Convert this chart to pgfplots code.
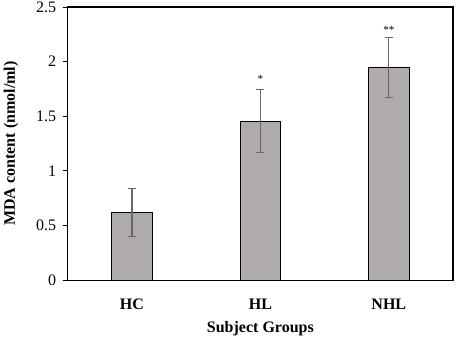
\documentclass[border=0pt]{standalone}
\usepackage{pgfplots}
\pgfplotsset{compat=1.18}
\usepackage{fontspec}
\setmainfont{Liberation Serif}
\definecolor{bargray}{RGB}{175,171,171}
\definecolor{errgray}{RGB}{105,105,105}
\begin{document}
\fontsize{16}{19}\selectfont
\begin{tikzpicture}
\begin{axis}[
  name=ax,
  scale only axis,
  width=385pt, height=273pt,
  xmin=-0.5, xmax=2.5,
  ymin=0, ymax=2.5,
  xtick={0,1,2},
  xticklabels={\textbf{HC},\textbf{HL},\textbf{NHL}},
  ytick={0,0.5,1,1.5,2,2.5},
  yticklabels={0,0.5,1,1.5,2,2.5},
  major x tick style={draw=none},
  ytick pos=left,
  tick align=outside,
  major tick length=5pt,
  axis line style={line width=1.2pt},
  y tick style={line width=1pt, black},
  xticklabel style={anchor=base, yshift=-24pt},
  yticklabel style={xshift=-1pt},
  xlabel={\textbf{Subject Groups}},
  ylabel={\textbf{MDA content (nmol/ml)}},
  xlabel style={at={(axis description cs:0.5,-0.1905)}, anchor=base},
  ylabel style={at={(axis description cs:-0.137,0.5)}, anchor=base},
  clip=false,
]
% bars with SD
\addplot[ybar, bar width=40.5pt, fill=bargray, draw=black, line width=1.1pt,
  error bars/.cd, y dir=both, y explicit,
  error bar style={errgray, line width=1.1pt},
  error mark options={rotate=90, errgray, line width=1.1pt, mark size=4pt}]
  coordinates {
  (0,0.62) +- (0,0.22)
  (1,1.455) +- (0,0.29)
  (2,1.945) +- (0,0.272)
};
% significance marks
\addplot[draw=none, mark=none, point meta=explicit symbolic,
  nodes near coords,
  every node near coord/.append style={anchor=base, inner sep=0pt, font=\fontsize{11}{13}\selectfont}]
  coordinates {
  (1,1.81) [*]
  (2,2.26) [**]
};
\end{axis}
\pgfresetboundingbox
\path ([shift={(-67.7pt,-57pt)}]ax.south west) rectangle ([shift={(4pt,7pt)}]ax.north east);
\end{tikzpicture}
\end{document}
